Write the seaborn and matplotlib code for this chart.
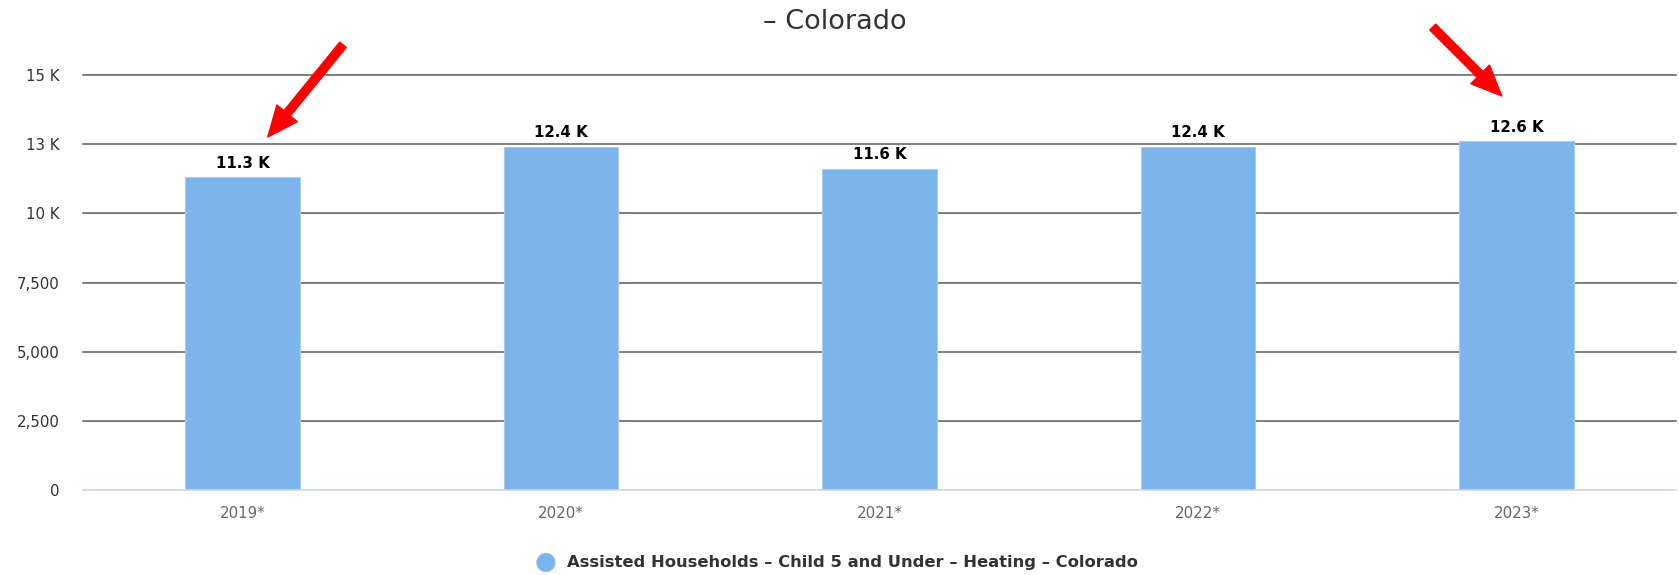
import pandas as pd
import matplotlib.pyplot as plt
import seaborn as sns

# Data
years = ["2019*", "2020*", "2021*", "2022*", "2023*"]
households = [11300, 12400, 11600, 12400, 12600]
value_labels = ["11.3 K", "12.4 K", "11.6 K", "12.4 K", "12.6 K"]
y_ticks = [0, 2500, 5000, 7500, 10000, 12500, 15000]
y_tick_labels = ["0", "2,500", "5,000", "7,500", "10 K", "13 K", "15 K"]
series_name = "Assisted Households - Child 5 and Under - Heating - Colorado"

df = pd.DataFrame({"Year": years, "Households": households})

sns.set_style("white")
plt.rcParams['font.family'] = ['DejaVu Sans']

fig = plt.figure(figsize=(16.79, 5.75), dpi=100)
ax = fig.add_axes([0.0497, 0.1471, 0.9483, 0.7225])

sns.barplot(data=df, x="Year", y="Households", color="#7cb5ec", saturation=1,
            width=0.36, edgecolor="#a9cdf2", linewidth=0.8, ax=ax, zorder=3)

ax.set_xlim(-0.5, 4.5)
ax.set_ylim(0, 15000)
ax.set_yticks(y_ticks)
ax.set_yticklabels(y_tick_labels, fontsize=10.8, color="#333333")
ax.tick_params(axis="y", length=0, pad=17)
ax.tick_params(axis="x", length=0, pad=11, labelsize=10.8, labelcolor="#666666")
ax.set_xlabel("")
ax.set_ylabel("")
for y in y_ticks[1:]:
    ax.axhline(y, color="#7f7f7f", lw=1.4, zorder=1, clip_on=False)
for s in ["top", "right", "left"]:
    ax.spines[s].set_visible(False)
ax.spines["bottom"].set_color("#ccd6eb")
ax.spines["bottom"].set_linewidth(1.2)
ax.spines["bottom"].set_zorder(4)

# value labels
for i, (v, lab) in enumerate(zip(households, value_labels)):
    ax.annotate(lab, (i, v), xytext=(0, 5), textcoords="offset points",
                ha="center", va="bottom", fontsize=10.8, fontweight="bold",
                color="#000000", zorder=5)

# red arrows
arrow = dict(facecolor="red", edgecolor="red", width=6, headwidth=19, headlength=22)
ax.annotate("", xy=(0.079, 12760), xytext=(0.315, 16090), arrowprops=arrow,
            annotation_clip=False)
ax.annotate("", xy=(3.954, 14240), xytext=(3.737, 16730), arrowprops=arrow,
            annotation_clip=False)

# title fragment
fig.text(835 / 1679, 1 - 22 / 575, "\u2013 Colorado", ha="center", va="center",
         fontsize=19.5, color="#333333")

# legend
fig.text(546 / 1679, 1 - 562 / 575, "\u25CF", ha="center", va="center",
         fontsize=18, color="#7cb5ec")
fig.text(567 / 1679, 1 - 562 / 575, series_name.replace(" - ", " \u2013 "),
         ha="left", va="center", fontsize=11.8, color="#333333", fontweight="semibold")

plt.savefig("out.png", dpi=100)
